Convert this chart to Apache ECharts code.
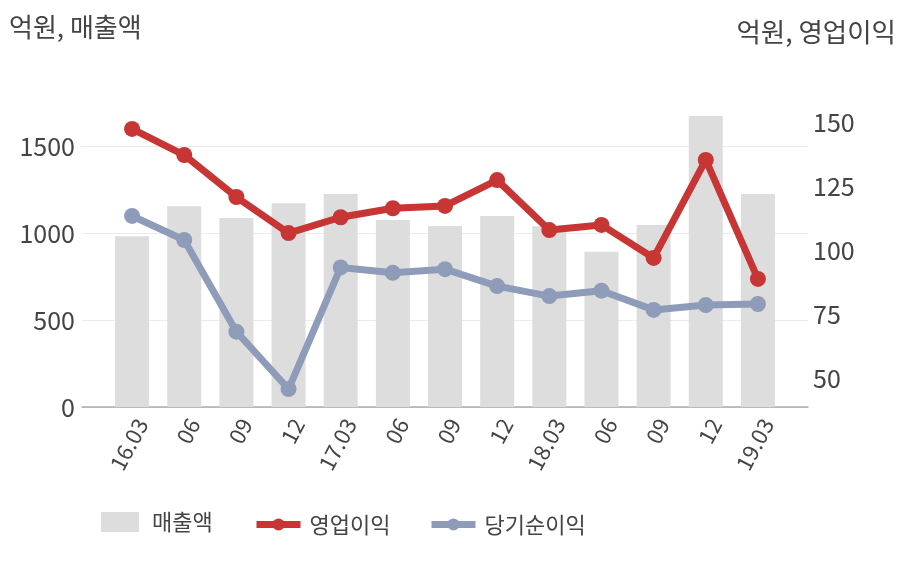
<!DOCTYPE html>
<html>
<head>
<meta charset="utf-8">
<script src="https://cdn.jsdelivr.net/npm/echarts@6/dist/echarts.min.js"></script>
<style>html,body{margin:0;padding:0;background:#fff}#c{width:908px;height:580px}</style>
</head>
<body>
<div id="c"></div>
<script>
const categories = ['16.03','06','09','12','17.03','06','09','12','18.03','06','09','12','19.03'];
const sales = [982, 1155, 1087, 1172, 1225, 1076, 1041, 1099, 1040, 893, 1047, 1674, 1225];
const opProfit = [147.3, 137.1, 120.7, 106.6, 112.8, 116.3, 117.2, 127.3, 107.8, 109.8, 96.9, 135.2, 88.7];
const netProfit = [113.3, 103.9, 68.1, 45.7, 93.2, 91.1, 92.5, 85.9, 82.0, 84.1, 76.6, 78.5, 78.9];
const leftTicks = [0, 500, 1000, 1500];
const rightTicks = [50, 75, 100, 125, 150];

const FONT = '"Noto Sans CJK KR", "Noto Sans", sans-serif';
const TXT = '#444';
const RED = '#c73535';
const BLUE = '#8f9cb9';
const legendText = (pad) => ({ fontSize: 22, color: TXT, fontFamily: FONT, padding: [0, 0, 0, pad] });
const chart = echarts.init(document.getElementById('c'));
chart.setOption({
  animation: false,
  textStyle: { fontFamily: FONT },
  graphic: [
    { type: 'text', left: 9, top: 14, style: { text: '억원, 매출액', font: '26px ' + FONT, fill: TXT } },
    { type: 'text', right: 12, top: 19, style: { text: '억원, 영업이익', font: '26.5px ' + FONT, fill: TXT } }
  ],
  legend: [
    { left: 96, top: 506, itemWidth: 38, itemHeight: 20, textStyle: legendText(8),
      data: [{ name: '매출액', icon: 'rect' }] },
    { left: 248, top: 508.5, itemWidth: 44, itemHeight: 15, textStyle: legendText(4),
      lineStyle: { width: 7 }, data: ['영업이익'] },
    { left: 423, top: 508.5, itemWidth: 44, itemHeight: 15, textStyle: legendText(4),
      lineStyle: { width: 7 }, data: ['당기순이익'] }
  ],
  grid: [
    { left: 82, right: 100, top: 59.4, bottom: 173 },
    { left: 106, right: 124, top: 59.4, bottom: 173 },
    { left: 106, right: 124, top: 58, bottom: 138 }
  ],
  xAxis: [
    { gridIndex: 0, type: 'category', data: categories, axisLabel: { show: false }, axisTick: { show: false },
      axisLine: { lineStyle: { color: '#aaa', width: 1.5 } } },
    { gridIndex: 1, type: 'category', data: categories, axisTick: { show: false }, axisLine: { show: false },
      axisLabel: { rotate: 62, fontSize: 22, color: TXT, margin: 8, interval: 0, fontFamily: FONT,
        verticalAlign: 'top' } },
    { gridIndex: 2, type: 'category', data: categories, show: false }
  ],
  yAxis: [
    { gridIndex: 0, type: 'value', min: 0, max: 2000, interval: 500,
      axisLine: { show: false }, axisTick: { show: false },
      axisLabel: { fontSize: 25, color: TXT, margin: 7, showMaxLabel: false, fontFamily: FONT,
        formatter: v => leftTicks.includes(v) ? String(v) : '' },
      splitLine: { lineStyle: { color: '#ebebeb', width: 1 }, showMaxLine: false } },
    { gridIndex: 1, type: 'value', min: 0, max: 2000, interval: 500, show: false, splitLine: { show: false } },
    { gridIndex: 2, type: 'value', position: 'right', min: 25, max: 175, interval: 25,
      axisLine: { show: false }, axisTick: { show: false }, splitLine: { show: false },
      axisLabel: { fontSize: 25, color: TXT, margin: 29, showMinLabel: false, showMaxLabel: false, fontFamily: FONT,
        formatter: v => rightTicks.includes(v) ? String(v) : '' } }
  ],
  series: [
    { name: '매출액', type: 'bar', xAxisIndex: 1, yAxisIndex: 1, data: sales, barWidth: 34,
      itemStyle: { color: '#dddddd' } },
    { name: '영업이익', type: 'line', xAxisIndex: 2, yAxisIndex: 2, data: opProfit,
      symbol: 'circle', symbolSize: 16, lineStyle: { width: 7, color: RED },
      itemStyle: { color: RED } },
    { name: '당기순이익', type: 'line', xAxisIndex: 2, yAxisIndex: 2, data: netProfit,
      symbol: 'circle', symbolSize: 16, lineStyle: { width: 7, color: BLUE },
      itemStyle: { color: BLUE } }
  ]
});
</script>
</body>
</html>
